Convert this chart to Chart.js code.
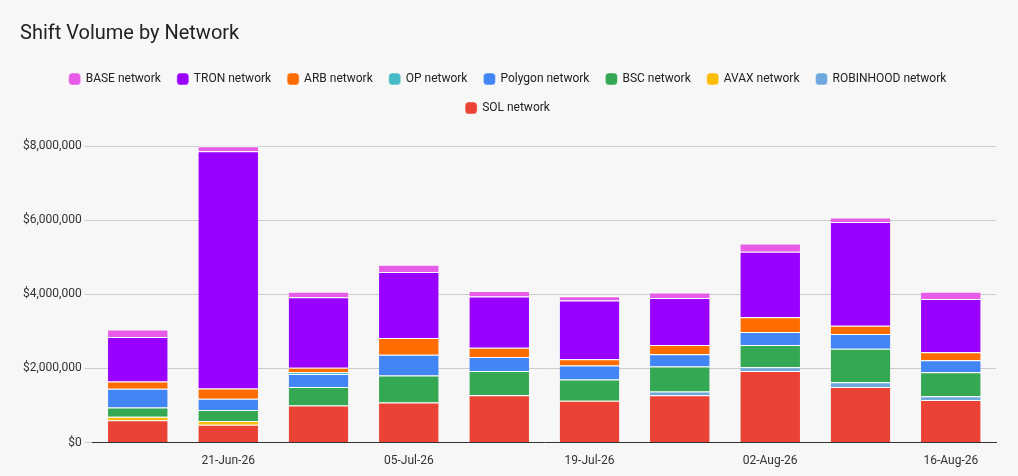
<!DOCTYPE html>
<html><head><meta charset="utf-8">
<script src="https://cdn.jsdelivr.net/npm/chart.js@4"></script>
<style>body{margin:0;background:#f7f7f7}#wrap{width:1018px;height:476px}</style>
</head><body><div id="wrap"><canvas id="c"></canvas></div>
<script>
const weeks = ['14-Jun-26','21-Jun-26','28-Jun-26','05-Jul-26','12-Jul-26','19-Jul-26','26-Jul-26','02-Aug-26','09-Aug-26','16-Aug-26'];
// bottom-up stack order
const sol       = [600000,480000,1000000,1080000,1280000,1130000,1280000,1930000,1500000,1150000];
const robinhood = [0,0,0,0,0,0,100000,100000,130000,100000];
const avax      = [100000,100000,0,0,0,0,0,0,0,0];
const bsc       = [250000,300000,500000,730000,650000,570000,670000,600000,900000,650000];
const polygon   = [500000,300000,350000,560000,380000,380000,330000,350000,400000,320000];
const op        = [0,0,50000,0,0,0,0,0,0,0];
const arb       = [200000,280000,120000,450000,250000,170000,250000,400000,220000,220000];
const tron      = [1200000,6400000,1900000,1780000,1380000,1580000,1270000,1770000,2800000,1430000];
const base      = [200000,130000,150000,200000,150000,120000,150000,220000,120000,200000];

const series = [
  ['SOL network', sol, '#ea4335'],
  ['ROBINHOOD network', robinhood, '#6fa8dc'],
  ['AVAX network', avax, '#fbbc04'],
  ['BSC network', bsc, '#34a853'],
  ['Polygon network', polygon, '#4285f4'],
  ['OP network', op, '#46bdc6'],
  ['ARB network', arb, '#ff6d01'],
  ['TRON network', tron, '#9900ff'],
  ['BASE network', base, '#e75ce7']
];

// extra room under the legend
const legendGap = {
  id: 'legendGap',
  beforeInit(chart) {
    const fit = chart.legend.fit;
    chart.legend.fit = function () { fit.bind(chart.legend)(); this.height += 22; };
  }
};

new Chart(document.getElementById('c'), {
  type: 'bar',
  data: {
    labels: weeks,
    datasets: series.map(([label, data, color]) => ({
      label, data, backgroundColor: color,
      borderColor: '#ffffff', borderWidth: {top: 1, bottom: 1, left: 0, right: 0},
      categoryPercentage: 0.66, barPercentage: 1
    }))
  },
  options: {
    responsive: true, maintainAspectRatio: false, animation: false,
    layout: {padding: {left: 20, right: 22, top: 22, bottom: 5}},
    plugins: {
      title: {display: true, text: 'Shift Volume by Network', align: 'start',
        color: '#222', font: {family: 'Roboto', size: 20, weight: 'normal'}, padding: {bottom: 10}},
      legend: {reverse: true, labels: {usePointStyle: true, pointStyle: 'rectRounded',
        boxWidth: 10, boxHeight: 10, color: '#222', font: {family: 'Roboto', size: 12}, padding: 17}},
      tooltip: {enabled: false}
    },
    scales: {
      x: {stacked: true, grid: {display: false}, border: {color: '#333'},
        ticks: {color: '#333', font: {family: 'Roboto', size: 12}, maxRotation: 0, autoSkip: false,
          callback: (v, i) => i % 2 === 1 ? weeks[i] : ''}},
      y: {stacked: true, min: 0, max: 8000000, border: {display: false},
        grid: {color: '#cccccc'},
        ticks: {stepSize: 2000000, color: '#333', font: {family: 'Roboto', size: 12},
          callback: v => '$' + v.toLocaleString('en-US')}}
    }
  },
  plugins: [legendGap]
});
</script></body></html>
